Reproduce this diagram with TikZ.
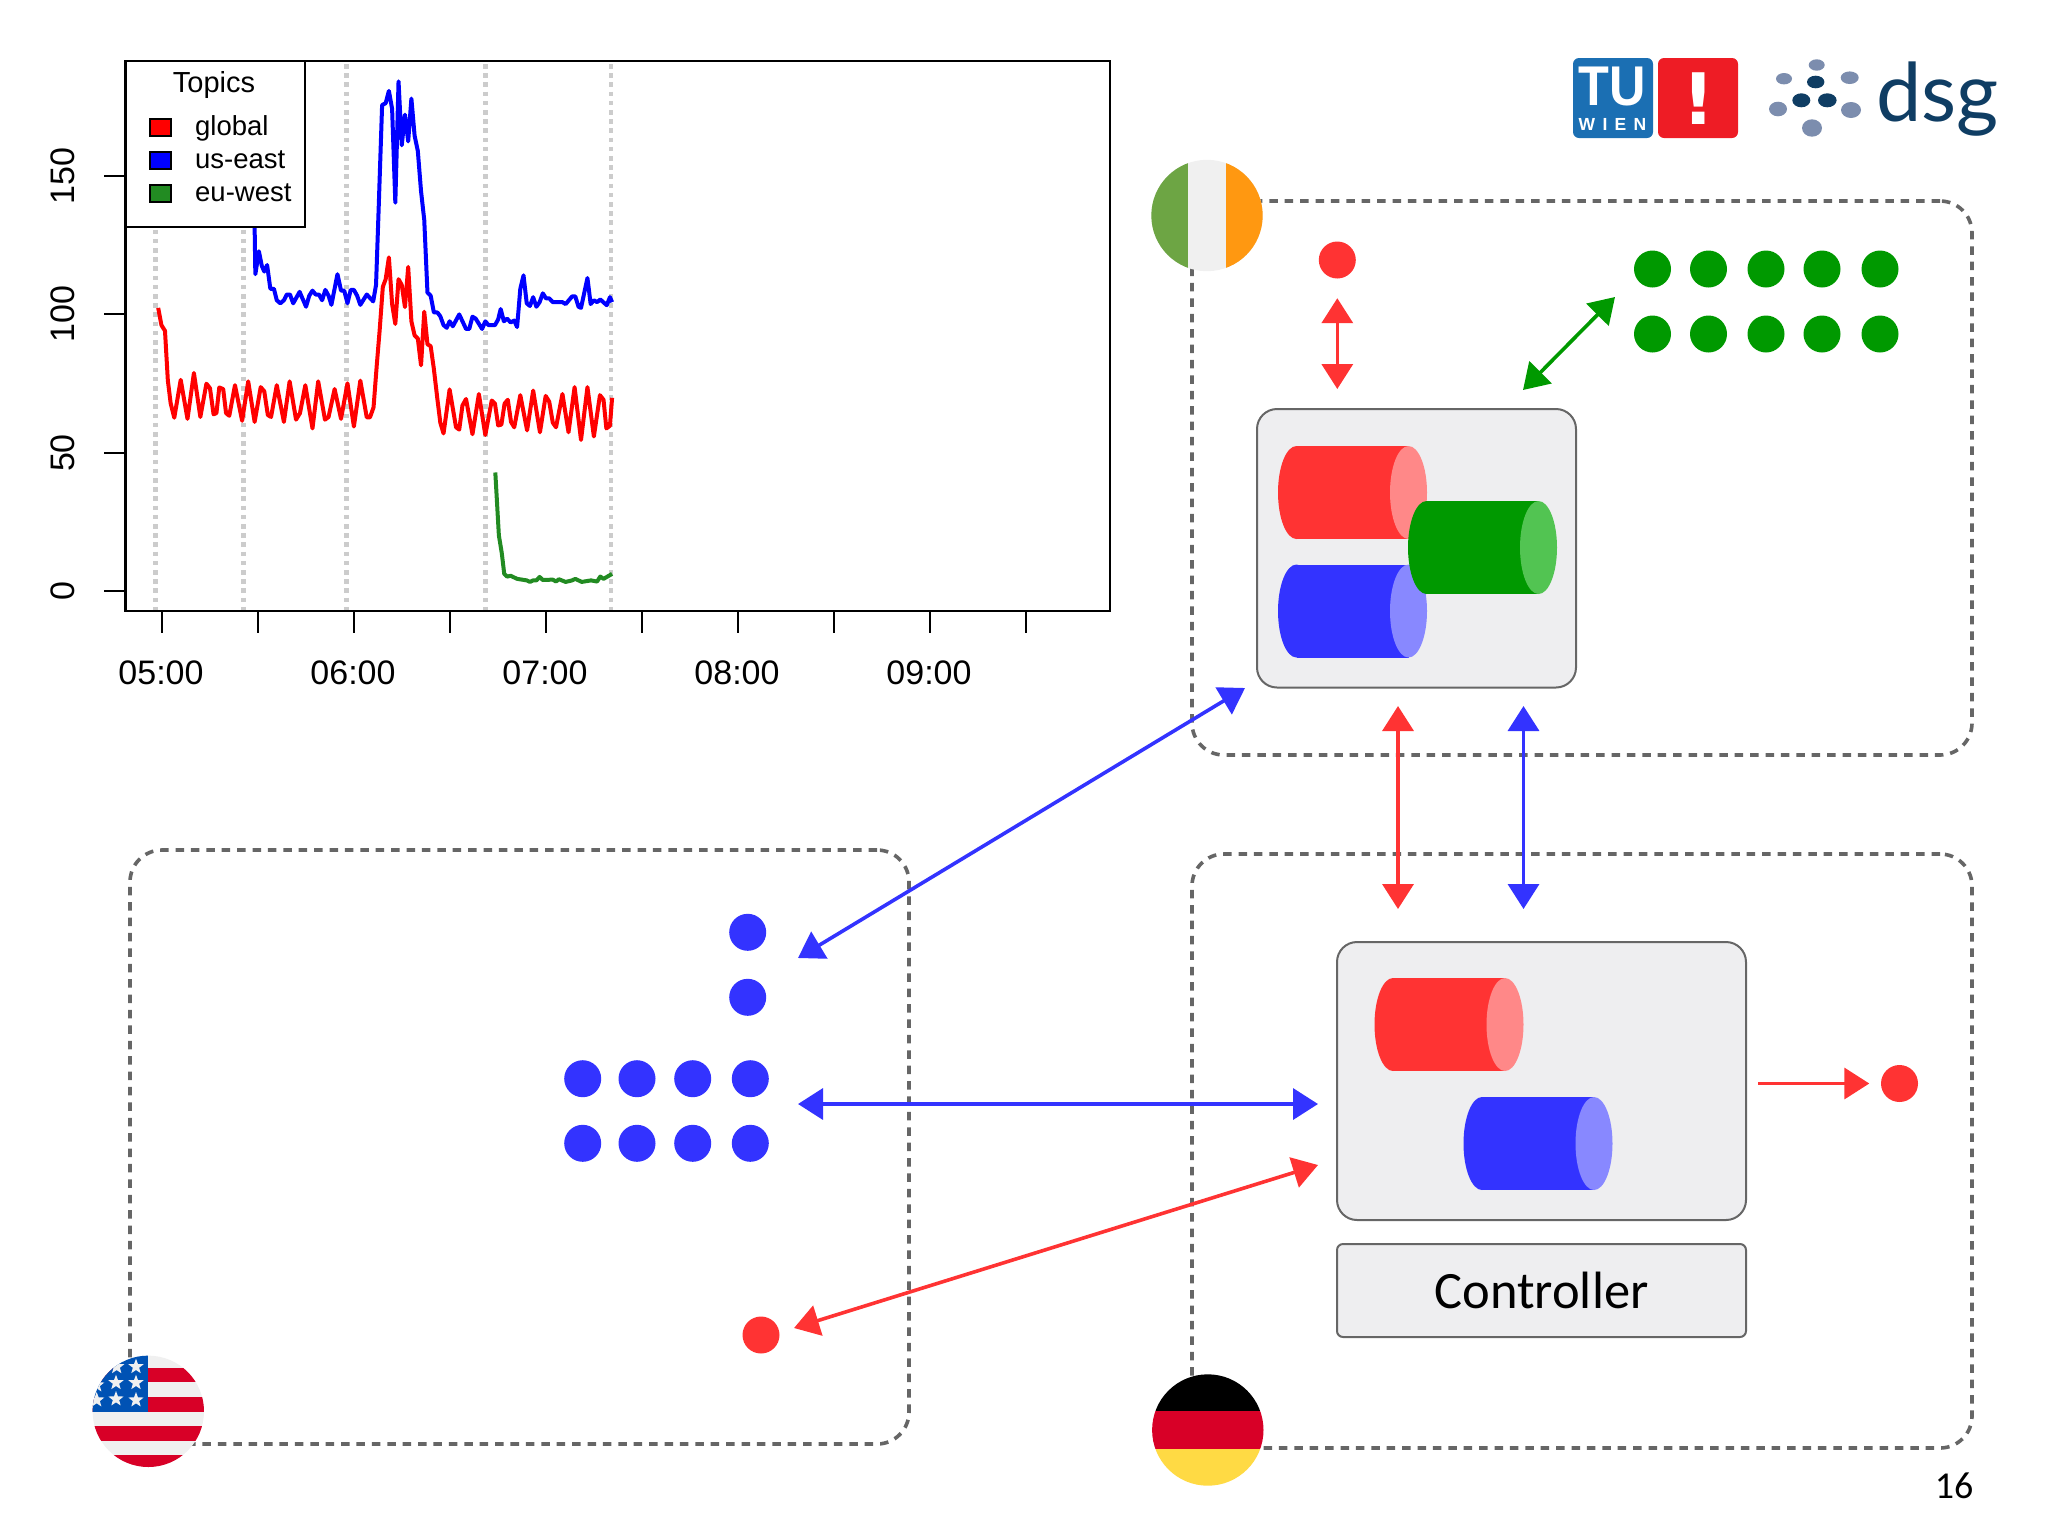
\documentclass[tikz,border=0pt]{standalone}
\usepackage{xcolor}
\usepackage{fontspec}
\setmainfont{Liberation Sans}
\newfontfamily\talkfont{Carlito}
\newfontfamily\dsgfont{Lato}
\newfontfamily\markfont{DejaVu Sans}
\newfontfamily\wienfont[LetterSpace=42]{Liberation Sans}
\usetikzlibrary{shapes.geometric, arrows.meta}
\definecolor{topicred}{HTML}{FF3333}
\definecolor{topicredlight}{HTML}{FF8888}
\definecolor{topicblue}{HTML}{3333FF}
\definecolor{topicbluelight}{HTML}{8888FF}
\definecolor{topicgreen}{HTML}{009900}
\definecolor{topicgreenlight}{HTML}{52C452}
\definecolor{boxgray}{HTML}{EEEEF0}
\definecolor{linegray}{HTML}{666666}
\definecolor{flagwhite}{HTML}{F0F0F0}
\definecolor{flagred}{HTML}{D80027}
\definecolor{flagblue}{HTML}{0052B4}
\definecolor{flaggreen}{HTML}{6DA544}
\definecolor{flagorange}{HTML}{FF9811}
\definecolor{flagyellow}{HTML}{FFDA44}
\definecolor{plotgreen}{HTML}{228B22}
\definecolor{tublue}{HTML}{1B6FB3}
\definecolor{tured}{HTML}{EE1C25}
\definecolor{dsgdark}{HTML}{0F3D63}
\definecolor{dsglight}{HTML}{7C8DAE}
\tikzstyle{region} = [rectangle,
    rounded corners=32pt,
    draw=linegray,
    line width=3.6pt,
    dash pattern=on 8.5pt off 6.9pt,
    inner sep=0pt]
\tikzstyle{queuebox} = [rectangle,
    rounded corners=20pt,
    draw=linegray,
    line width=2pt,
    fill=boxgray,
    inner sep=0pt]
\tikzstyle{topic} = [circle, minimum size=37pt, inner sep=0pt]
\tikzstyle{arrow} = [line width=3.6pt,>={Triangle[length=25pt,width=31pt]}]
\tikzstyle{curve} = [line width=4pt, line join=round]
\tikzstyle{swatch} = [rectangle, draw=black, line width=2.2pt, minimum width=21pt, minimum height=17pt, inner sep=0pt]
\tikzstyle{legendtext} = [anchor=base west, inner sep=0pt, font=\fontsize{27.5}{32}\selectfont]
\tikzstyle{axistext} = [inner sep=0pt, font=\fontsize{34}{40}\selectfont]
\tikzset{pics/queue/.style n args={2}{code={
    \fill [#1] (-56,-46.5) rectangle (56,46.5);
    \fill [#1] (-56,0) ellipse [x radius=18.5, y radius=46.5];
    \fill [#2] (56,0) ellipse [x radius=18.5, y radius=46.5];
}}}
\begin{document}
\begin{tikzpicture}[x=1pt, y=-1pt]
        \useasboundingbox (0,0) rectangle (2048,1535);

        \node (ie_region) [region, minimum width=780pt, minimum height=554pt] at (1582,478) {};
        \node (de_region) [region, minimum width=780pt, minimum height=594pt] at (1582,1151) {};
        \node (us_region) [region, minimum width=779pt, minimum height=594pt] at (519.5,1147) {};

        \foreach \x in {155.4, 243.6, 346.4, 485.7, 611}
            \draw [draw=black!20, line width=4.5pt, dash pattern=on 4.5pt off 4.7pt] (\x,64) -- (\x,611);
        \begin{scope}[shift={(100,40)}, x=0.3571pt, y=-0.3827pt]
            \draw [curve, draw=blue] plot coordinates {(433,488) (435,612) (445,552) (453,590) (460,605) (468,588) (477,650) (487,650) (495,680) (505,688) (515,680) (523,665) (532,665) (541,688) (559,658) (577,697) (586,668) (595,655) (604,665) (613,665) (622,680) (631,653) (640,668) (648,692) (665,612) (675,655) (684,655) (693,688) (702,653) (711,653) (720,668) (729,692) (747,665) (765,683) (773,640) (780,450) (790,170) (800,165) (809,133) (818,180) (827,425) (836,108) (845,275) (854,195) (863,265) (872,153) (881,250) (890,290) (899,395) (908,470) (917,660) (926,668) (935,712) (945,712) (953,722) (962,745) (971,752) (979,735) (988,748) (1006,717) (1025,755) (1034,755) (1043,723) (1052,728) (1070,755) (1079,735) (1088,745) (1106,745) (1115,730) (1122,703) (1131,735) (1140,728) (1150,738) (1160,733) (1168,750) (1177,650) (1186,615) (1195,688) (1204,695) (1213,672) (1222,697) (1231,685) (1240,662) (1249,675) (1258,675) (1268,685) (1295,685) (1304,690) (1322,670) (1331,670) (1340,697) (1347,700) (1365,622) (1374,690) (1383,680) (1392,685) (1401,678) (1419,693) (1428,672) (1434,685)};
            \draw [curve, draw=red] plot coordinates {(163,700) (172,745) (182,760) (190,890) (198,950) (208,987) (226,888) (245,990) (263,870) (281,985) (298,898) (308,910) (318,978) (326,975) (334,908) (345,912) (353,975) (362,982) (378,902) (398,995) (415,892) (433,998) (450,907) (460,918) (470,980) (479,985) (495,902) (515,998) (531,892) (549,992) (560,975) (575,902) (595,1015) (611,892) (630,992) (640,985) (657,912) (675,990) (693,897) (711,1010) (729,890) (747,986) (756,986) (766,960) (775,850) (783,760) (792,645) (800,625) (809,568) (818,690) (827,742) (836,625) (845,640) (854,698) (863,593) (872,735) (881,772) (890,780) (899,850) (908,710) (917,795) (926,800) (935,860) (945,940) (953,1000) (962,1028) (979,913) (997,1012) (1006,1018) (1015,955) (1025,938) (1043,1030) (1061,925) (1079,1032) (1097,942) (1106,950) (1115,1007) (1124,1005) (1133,950) (1142,940) (1151,998) (1160,1012) (1177,928) (1196,1020) (1213,916) (1232,1025) (1248,930) (1258,945) (1268,1000) (1277,1012) (1295,925) (1312,1025) (1329,907) (1347,1045) (1365,907) (1383,1036) (1400,928) (1410,940) (1418,1015) (1428,1008) (1434,935)};
            \draw [curve, draw=plotgreen] plot coordinates {(1107,1130) (1117,1295) (1125,1340) (1132,1395) (1140,1402) (1150,1400) (1168,1408) (1195,1412) (1204,1416) (1213,1412) (1222,1412) (1231,1403) (1240,1411) (1268,1410) (1277,1415) (1285,1409) (1304,1416) (1322,1412) (1331,1408) (1349,1416) (1375,1412) (1392,1415) (1401,1402) (1410,1408) (1434,1395)};
        \end{scope}

        \draw [line width=2.5pt] (125.5,61) rectangle (1110,611);
        \foreach \x in {162, 258, 354, 450, 546, 642, 738, 834, 930, 1026}
            \draw [line width=2.5pt] (\x,611) -- (\x,633);
        \foreach \y/\t [count=\i] in {176/150, 314/100, 453/50, 591/0} {
            \draw [line width=2.5pt] (104,\y) -- (125.5,\y);
            \node (y_label_\i) [axistext, rotate=90] at (63,\y) {\t};
        }
        \foreach \x/\t [count=\i] in {161/05:00, 353/06:00, 545/07:00, 737/08:00, 929/09:00}
            \node (x_label_\i) [axistext] at (\x,673) {\t};

        \node (legend) [rectangle, draw=black, line width=2.5pt, fill=white, minimum width=179.5pt, minimum height=166pt, inner sep=0pt] at (215.25,144) {};
        \node (legend_title) [legendtext, anchor=base, font=\fontsize{29}{34}\selectfont] at (214,92) {Topics};
        \node (swatch_global) [swatch, fill=red] at (160.5,127.5) {};
        \node (swatch_us) [swatch, fill=blue] at (160.5,160.5) {};
        \node (swatch_eu) [swatch, fill=plotgreen] at (160.5,193.5) {};
        \node (legend_global) [legendtext] at (195,135) {global};
        \node (legend_us) [legendtext] at (195,168) {us-east};
        \node (legend_eu) [legendtext] at (195,201.5) {eu-west};

        \node (tu_box) [rectangle, rounded corners=6pt, fill=tublue, minimum size=80pt, inner sep=0pt] at (1613,98) {};
        \node (tu_text) [anchor=base, inner sep=0pt, text=white, font=\fontsize{56}{60}\selectfont\bfseries] at (1612,105) {\scalebox{.9}[1]{TU}};
        \node (wien_text) [anchor=base, inner sep=0pt, text=white, font=\wienfont\fontsize{17.5}{20}\selectfont\bfseries] at (1612.5,130) {WIEN};
        \node (tu_mark_box) [rectangle, rounded corners=6pt, fill=tured, minimum size=80pt, inner sep=0pt] at (1698,98) {};
        \node (tu_mark) [anchor=base, inner sep=0pt, text=white, font=\markfont\fontsize{71}{75}\selectfont\bfseries] at (1698.7,124.3) {!};
        \foreach \x/\y/\rx/\ry in {1815.7/82/8.7/6.3, 1801.3/100.3/9/7, 1827.3/100.3/9.3/7}
            \fill [dsgdark] (\x,\y) ellipse [x radius=\rx, y radius=\ry];
        \foreach \x/\y/\rx/\ry in {1816.7/65/8/5.7, 1784/78.7/8/5.7, 1849.7/77.7/9/6.3, 1778/109/9/7.3, 1851/110/10/8, 1812/128/10/8.7}
            \fill [dsglight] (\x,\y) ellipse [x radius=\rx, y radius=\ry];
        \node (dsg_text) [anchor=base west, inner sep=0pt, text=dsgdark, font=\dsgfont\fontsize{81}{90}\selectfont] at (1876,121.7) {dsg};

        \begin{scope}
            \clip (1207,215.5) circle (55.7);
            \fill [flagwhite] (1150,159) rectangle (1264,272);
            \fill [flaggreen] (1150,159) rectangle (1187.7,272);
            \fill [flagorange] (1226.3,159) rectangle (1264,272);
        \end{scope}
        \begin{scope}
            \clip (1207.8,1430) circle (55.7);
            \fill [black] (1150,1374) rectangle (1264,1411);
            \fill [flagred] (1150,1411) rectangle (1264,1449.3);
            \fill [flagyellow] (1150,1449.3) rectangle (1264,1486);
        \end{scope}
        \begin{scope}
            \clip (148.3,1411.3) circle (55.7);
            \fill [flagwhite] (92,1355) rectangle (205,1468);
            \foreach \y/\v in {1367.7/1382.3, 1397/1411.7, 1426/1440.7, 1455/1468}
                \fill [flagred] (92,\y) rectangle (205,\v);
            \fill [flagblue] (92,1355) rectangle (148.3,1411.7);
            \foreach \x/\y [count=\i] in {136/1366.7, 116.7/1366.7, 136/1382.7, 116/1382.7, 96.7/1385, 136/1400, 116/1399, 96.7/1400}
                \node (us_star_\i) [star, star points=5, star point ratio=2.4, fill=flagwhite, minimum size=16pt, inner sep=0pt] at (\x,\y) {};
        \end{scope}

        \node (ie_queue) [queuebox, minimum width=319pt, minimum height=278.5pt] at (1416.5,548.25) {};
        \pic (ie_red) at (1352.5,492.5) {queue={topicred}{topicredlight}};
        \pic (ie_blue) at (1352.5,611) {queue={topicblue}{topicbluelight}};
        \pic (ie_green) at (1482.5,547.5) {queue={topicgreen}{topicgreenlight}};

        \node (de_queue) [queuebox, minimum width=409pt, minimum height=278pt] at (1541.5,1081) {};
        \pic (de_red) at (1449,1024.5) {queue={topicred}{topicredlight}};
        \pic (de_blue) at (1538,1143.5) {queue={topicblue}{topicbluelight}};
        \node (controller) [queuebox, rounded corners=6pt, minimum width=409pt, minimum height=93pt] at (1541.5,1290.5) {};
        \node (controller_text) [inner sep=0pt, font=\talkfont\fontsize{52.5}{60}\selectfont] at (1541.5,1290) {Controller};
        \node (page_number) [inner sep=0pt, font=\talkfont\fontsize{38}{44}\selectfont] at (1954,1486) {16};

        \node (ie_topic) [topic, fill=topicred] at (1337.3,260) {};
        \foreach \x [count=\i] in {1652.5, 1708.5, 1766, 1822, 1880}
            \foreach \y [count=\j] in {269, 334}
                \node (ie_dot_\i_\j) [topic, fill=topicgreen] at (\x,\y) {};
        \foreach \x [count=\i] in {582.7, 637, 692.7, 750.3}
            \foreach \y [count=\j] in {1078.7, 1143.3}
                \node (us_dot_\i_\j) [topic, fill=topicblue] at (\x,\y) {};
        \node (us_dot_top) [topic, fill=topicblue] at (747.7,932.3) {};
        \node (us_dot_mid) [topic, fill=topicblue] at (747.7,997.3) {};
        \node (us_topic) [topic, fill=topicred] at (761,1335) {};
        \node (de_topic) [topic, fill=topicred] at (1899.5,1083.5) {};

        \coordinate (green_far) at (1615,297);
        \coordinate (green_near) at (1523,390);
        \coordinate (us_far) at (798,958);
        \coordinate (ie_near) at (1245,688);
        \coordinate (red_up) at (1398,706);
        \coordinate (red_down) at (1398,909);
        \coordinate (blue_up) at (1523.5,706);
        \coordinate (blue_down) at (1523.5,909);
        \coordinate (us_blue_end) at (798,1104);
        \coordinate (de_blue_end) at (1318,1104);
        \coordinate (us_red_end) at (794,1328);
        \coordinate (de_red_end) at (1318,1165);
        \coordinate (de_out) at (1758,1083.5);

        \draw [arrow, <->, draw=topicred, shorten <=19.5pt, shorten >=19pt] (ie_topic) -- (ie_topic |- ie_queue.north);
        \draw [arrow, <->, draw=topicgreen] (green_far) -- (green_near);
        \draw [arrow, <->, draw=topicblue] (ie_near) -- (us_far);
        \draw [arrow, <->, draw=topicred] (red_up) -- (red_down);
        \draw [arrow, <->, draw=topicblue] (blue_up) -- (blue_down);
        \draw [arrow, <->, draw=topicblue] (us_blue_end) -- (de_blue_end);
        \draw [arrow, <->, draw=topicred] (us_red_end) -- (de_red_end);
        \draw [arrow, ->, draw=topicred, shorten >=11.5pt] (de_out) -- (de_topic);
    \end{tikzpicture}
\end{document}
